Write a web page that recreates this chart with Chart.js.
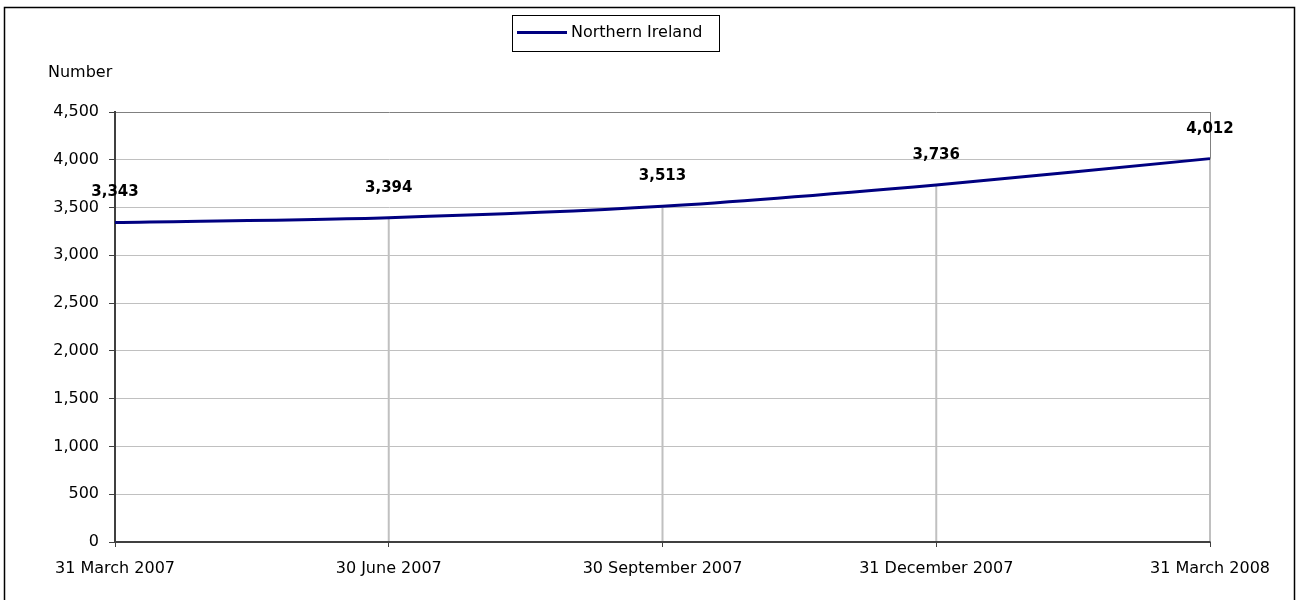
<!DOCTYPE html>
<html>
<head>
<meta charset="utf-8">
<style>
  html, body { margin: 0; padding: 0; background: #fff; }
  #wrap { width: 1299px; height: 600px; position: relative; }
</style>
<script src="https://cdn.jsdelivr.net/npm/chart.js@4.4.0/dist/chart.umd.min.js"></script>
</head>
<body>
<div id="wrap"><canvas id="chart" width="1299" height="600"></canvas></div>
<script>
// data
const categories = ['31 March 2007', '30 June 2007', '30 September 2007', '31 December 2007', '31 March 2008'];
const niValues = [3343, 3394, 3513, 3736, 4012];
const yTicks = [0, 500, 1000, 1500, 2000, 2500, 3000, 3500, 4000, 4500];
const seriesName = 'Northern Ireland';
const yTitle = 'Number';

const FONT = 'DejaVu Sans';
const fmt = v => v.toLocaleString('en-US');

// frame, axis title, legend, drop lines, value labels
const extras = {
    id: 'extras',
    beforeDatasetsDraw(chart) {
        const ctx = chart.ctx;
        const area = chart.chartArea;
        const meta = chart.getDatasetMeta(0);
        ctx.save();
        // right edge of plot
        ctx.strokeStyle = '#808080';
        ctx.lineWidth = 1;
        ctx.beginPath();
        ctx.moveTo(area.right + 0.5, area.top);
        ctx.lineTo(area.right + 0.5, area.bottom);
        ctx.stroke();
        // drop lines from each point down to the axis
        ctx.strokeStyle = '#c0c0c0';
        ctx.lineWidth = 2;
        meta.data.forEach((pt, i) => {
            if (i === 0) return;
            ctx.beginPath();
            ctx.moveTo(pt.x, pt.y);
            ctx.lineTo(pt.x, area.bottom - 1);
            ctx.stroke();
        });
        ctx.restore();
    },
    afterDatasetsDraw(chart) {
        const ctx = chart.ctx;
        const meta = chart.getDatasetMeta(0);
        ctx.save();
        ctx.fillStyle = '#000';
        ctx.font = 'bold 15px "' + FONT + '"';
        ctx.textAlign = 'center';
        ctx.textBaseline = 'middle';
        meta.data.forEach((pt, i) => {
            ctx.fillText(fmt(niValues[i]), pt.x, pt.y - 30);
        });
        ctx.restore();
    },
    afterDraw(chart) {
        const ctx = chart.ctx;
        const ds = chart.data.datasets[0];
        ctx.save();
        // outer frame (bottom edge falls outside the picture)
        ctx.strokeStyle = '#000';
        ctx.lineWidth = 1.5;
        ctx.strokeRect(4.5, 7.5, 1290, 600);

        ctx.fillStyle = '#000';
        ctx.font = '16px "' + FONT + '"';
        ctx.textAlign = 'left';
        ctx.textBaseline = 'middle';
        ctx.fillText(yTitle, 48, 73);

        // legend box
        ctx.strokeStyle = '#000';
        ctx.lineWidth = 1;
        ctx.strokeRect(512.5, 15.5, 207, 36);
        ctx.strokeStyle = ds.borderColor;
        ctx.lineWidth = 3;
        ctx.beginPath();
        ctx.moveTo(517, 32.5);
        ctx.lineTo(567, 32.5);
        ctx.stroke();
        ctx.fillText(ds.label, 571, 33);
        ctx.restore();
    }
};

new Chart(document.getElementById('chart'), {
    type: 'line',
    data: {
        labels: categories,
        datasets: [{
            label: seriesName,
            data: niValues,
            borderColor: '#000080',
            borderWidth: 3,
            pointRadius: 0,
            tension: 0.3,
            fill: false
        }]
    },
    options: {
        responsive: false,
        animation: false,
        layout: { padding: { left: 0, right: 89, top: 112, bottom: 0 } },
        plugins: { legend: { display: false }, tooltip: { enabled: false } },
        scales: {
            x: {
                offset: false,
                afterFit: s => { s.height = 58; },
                grid: { drawOnChartArea: false, drawTicks: true, tickLength: 5, tickColor: '#404040', tickWidth: 1 },
                border: { display: true, color: '#404040', width: 2 },
                ticks: { color: '#000', font: { family: FONT, size: 16 }, padding: 12, maxRotation: 0, autoSkip: false }
            },
            y: {
                min: yTicks[0],
                max: yTicks[yTicks.length - 1],
                afterFit: s => { s.width = 115; },
                afterBuildTicks: s => { s.ticks = yTicks.map(v => ({ value: v })); },
                grid: {
                    color: c => (c.tick && c.tick.value === yTicks[yTicks.length - 1]) ? '#808080' : '#c0c0c0',
                    lineWidth: 1,
                    tickLength: 6,
                    tickColor: '#404040'
                },
                border: { display: true, color: '#404040', width: 2 },
                ticks: { color: '#000', font: { family: FONT, size: 16 }, padding: 10, callback: v => fmt(v) }
            }
        }
    },
    plugins: [extras]
});
</script>
</body>
</html>
